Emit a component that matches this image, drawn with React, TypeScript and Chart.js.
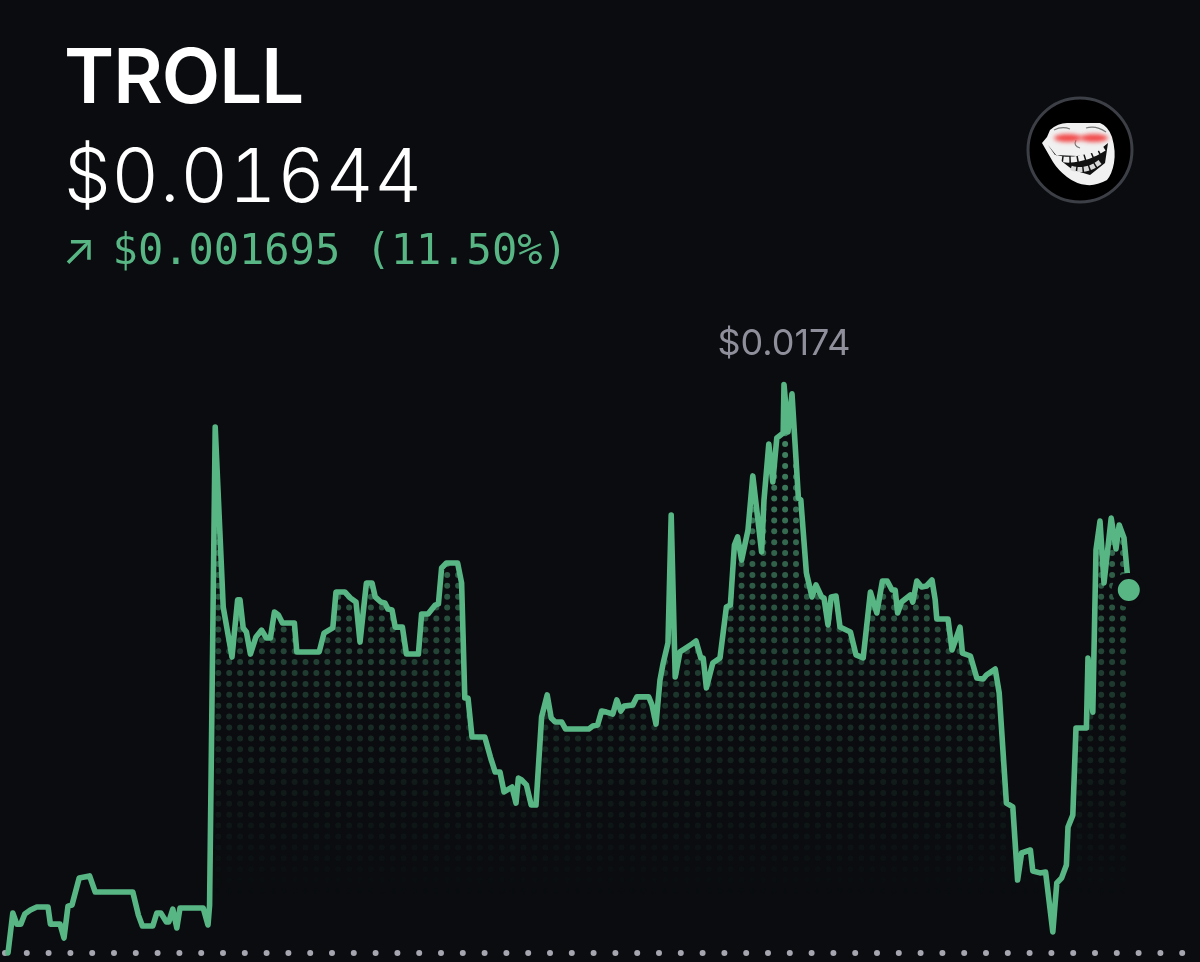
import React, { useEffect, useRef } from "react";
import { Chart, registerables } from "chart.js";

Chart.register(...registerables);

const tokenName = "TROLL";
const currentPriceLabel = "$0.01644";
const changeArrow = "↗";
const changeLabel = "$0.001695 (11.50%)";
const openPrice = 0.014745;

const minutes = [
  0, 6, 11, 16, 21, 28, 36, 50, 53, 65, 70, 75, 80, 89, 102, 109, 156, 163, 168, 181, 186, 191, 198, 201, 206, 211, 215, 244, 250, 252,
  259, 269, 280, 287, 290, 294, 298, 303, 310, 317, 323, 328, 333, 338, 343, 358, 361, 389, 395, 406, 410, 421, 428, 435, 440, 448, 455, 459, 466, 471,
  475, 480, 484, 493, 498, 513, 517, 525, 534, 538, 542, 548, 562, 567, 571, 575, 580, 596, 603, 609, 615, 620, 630, 635, 638, 642, 648, 654, 660, 667,
  674, 679, 684, 692, 697, 726, 731, 737, 742, 748, 756, 761, 766, 770, 781, 786, 801, 805, 810, 815, 819, 825, 829, 834, 840, 855, 860, 866, 869, 873,
  881, 890, 898, 903, 908, 912, 917, 925, 931, 942, 945, 951, 956, 961, 969, 970, 975, 980, 988, 991, 998, 1005, 1010, 1017, 1020, 1025, 1029, 1035, 1040, 1053,
  1060, 1069, 1078, 1086, 1093, 1099, 1105, 1109, 1112, 1117, 1128, 1131, 1136, 1142, 1148, 1155, 1159, 1161, 1175, 1180, 1190, 1193, 1203, 1211, 1219, 1223, 1234, 1239, 1248, 1256,
  1262, 1267, 1278, 1281, 1290, 1297, 1306, 1311, 1317, 1323, 1325, 1331, 1335, 1348, 1350, 1356, 1360, 1365, 1370, 1379, 1385, 1389, 1395, 1401,
];

const prices = [
  0.014745, 0.014932, 0.01488, 0.01488, 0.014927, 0.014946, 0.01496, 0.01496, 0.01488, 0.01488, 0.014815, 0.014964, 0.014969, 0.015095, 0.015105, 0.01503, 0.01503, 0.014922, 0.014871, 0.014871,
  0.014932, 0.014932, 0.01489, 0.01489, 0.01495, 0.014862, 0.014955, 0.014955, 0.014876, 0.014969,
  0.017201, 0.016361, 0.016127, 0.016394, 0.016394, 0.016263, 0.016244, 0.016141, 0.016221, 0.016253, 0.016216, 0.016216, 0.016337, 0.016323, 0.016286, 0.016286, 0.016151, 0.016151, 0.016239, 0.016263,
  0.016431, 0.016431, 0.016403, 0.016384, 0.016197, 0.016473, 0.016473, 0.016408, 0.016384, 0.01638,
  0.016351, 0.016347, 0.016267, 0.016267, 0.016141, 0.016141, 0.016328, 0.016328, 0.01637, 0.016375, 0.016543, 0.016566, 0.016566, 0.016473, 0.015936, 0.015936, 0.015754, 0.015754, 0.01566, 0.01559,
  0.01559, 0.015497, 0.01552, 0.015445, 0.015562, 0.015553, 0.01553, 0.015436, 0.015436, 0.015847,
  0.01595, 0.015842, 0.015824, 0.015824, 0.015791, 0.015791, 0.015805, 0.01581, 0.015875, 0.01587, 0.015861, 0.015927, 0.015875, 0.015898, 0.015903, 0.015941, 0.015941, 0.015903, 0.015814, 0.01602,
  0.016099, 0.016193, 0.01679, 0.016034, 0.016151, 0.016188, 0.016202, 0.016123, 0.016123, 0.015983,
  0.016099, 0.016123, 0.016361, 0.01637, 0.01665, 0.016688, 0.01658, 0.01672, 0.016973, 0.016618, 0.016861, 0.017122, 0.016945, 0.01715, 0.017173, 0.0174, 0.017178, 0.017356, 0.01687, 0.016861,
  0.01652, 0.016408, 0.016464, 0.016408, 0.016403, 0.016277, 0.016408, 0.016412, 0.016267, 0.016244,
  0.016137, 0.016123, 0.016431, 0.016333, 0.016482, 0.016482, 0.01644, 0.01644, 0.016333, 0.016384, 0.016417, 0.016384, 0.016482, 0.016454, 0.016459, 0.016487, 0.016394, 0.016305, 0.016305, 0.01616,
  0.016267, 0.016146, 0.016132, 0.016029, 0.016025, 0.016043, 0.016071, 0.015959, 0.015445, 0.015427,
  0.015086, 0.015212, 0.015226, 0.015128, 0.015119, 0.015123, 0.014843, 0.015072, 0.015095, 0.015156, 0.015333, 0.015389, 0.015796, 0.015796, 0.016123, 0.01587, 0.016627, 0.016762, 0.016473, 0.016776,
  0.016632, 0.016744, 0.016683, 0.01644,
];

const BG = "#0a0c0f";
const GREEN = "#58b685";
const FONT = "Inter, 'Noto Sans', sans-serif";

function makeDotPattern(): CanvasPattern | string {
  const off = document.createElement("canvas");
  off.width = 1200;
  off.height = 962;
  const g = off.getContext("2d");
  if (!g) return "transparent";
  const grad = g.createLinearGradient(0, 430, 0, 900);
  grad.addColorStop(0, "rgba(88,182,133,0.72)");
  grad.addColorStop(0.34, "rgba(88,182,133,0.46)");
  grad.addColorStop(0.53, "rgba(88,182,133,0.27)");
  grad.addColorStop(0.75, "rgba(88,182,133,0.09)");
  grad.addColorStop(1, "rgba(88,182,133,0)");
  g.fillStyle = grad;
  for (let c = -1; c < 84; c++) {
    for (let r = -26; r < 22; r++) {
      g.beginPath();
      g.arc(218.3 + c * 10.9, 673 + r * 10.9, 3, 0, Math.PI * 2);
      g.fill();
    }
  }
  const p = g.createPattern(off, "no-repeat");
  return p || "transparent";
}

const peakLabel = {
  id: "peakLabel",
  afterDatasetsDraw(chart: any) {
    const top = Math.max(...prices);
    const i = prices.indexOf(top);
    const x = chart.scales.x.getPixelForValue(minutes[i]);
    const y = chart.scales.y.getPixelForValue(top);
    const c = chart.ctx;
    c.save();
    c.font = `400 36px ${FONT}`;
    c.fillStyle = "#8f8f9b";
    c.textAlign = "center";
    c.textBaseline = "alphabetic";
    (c as any).letterSpacing = "0px";
    c.fillText(`$${top.toFixed(4)}`, x, y - 29);
    c.restore();
  },
};

function TrollLogo() {
  return (
    <svg width={108} height={108} viewBox="0 0 108 108" style={{ position: "absolute", left: 1026, top: 96 }}>
      <defs>
        <filter id="glow" x="-40%" y="-120%" width="180%" height="340%">
          <feGaussianBlur stdDeviation="2" />
        </filter>
      </defs>
      <circle cx={54} cy={54} r={52} fill="#000" stroke="#3d3f47" strokeWidth={3} />
      <path d="M24 34 Q32 27 41 27 L74 27 Q82 30 86 41 Q90 55 88 67 Q86 78 81 84 Q70 90 61 89 Q50 88 41 81 Q32 74 27 66 L16 47 L21 41 Z" fill="#f1f1f1" />
      <path d="M22 49 L29 59 L51 60 L71 56 L82 47 L79 67 L64 79 L47 74 L34 64 Z" fill="#111" />
      <path d="M30 62 Q52 68 78 52" fill="none" stroke="#f1f1f1" strokeWidth={6} strokeDasharray="6 1.5" />
      <path d="M45 72 Q60 77 74 66" fill="none" stroke="#d8d8d8" strokeWidth={5} strokeDasharray="5 1.5" />
      <path d="M28 34 Q36 30 44 33 M60 32 Q70 29 80 36 M50 44 Q47 50 54 52" fill="none" stroke="#777" strokeWidth={1.2} />
      <ellipse cx={42} cy={42} rx={14} ry={4} fill="#f24a4a" filter="url(#glow)" />
      <ellipse cx={68} cy={42} rx={14} ry={4} fill="#f24a4a" filter="url(#glow)" />
    </svg>
  );
}

export default function App() {
  const ref = useRef<HTMLCanvasElement>(null);
  useEffect(() => {
    if (!ref.current) return;
    const series = minutes.map((m, i) => ({ x: m, y: prices[i] }));
    const last = series[series.length - 1];
    const chart = new Chart(ref.current, {
      type: "line",
      data: {
        datasets: [
          {
            label: "last",
            data: [last],
            showLine: false,
            pointRadius: 14,
            pointBackgroundColor: GREEN,
            pointBorderColor: BG,
            pointBorderWidth: 6,
            order: 0,
          },
          {
            label: tokenName,
            data: series,
            borderColor: GREEN,
            borderWidth: 5.6,
            borderJoinStyle: "round",
            borderCapStyle: "round",
            pointRadius: 0,
            tension: 0,
            fill: "start",
            backgroundColor: makeDotPattern() as any,
            order: 1,
          },
          {
            label: "open",
            data: [
              { x: -3.75, y: openPrice },
              { x: 1490, y: openPrice },
            ],
            borderColor: "#a6a6b1",
            borderWidth: 6,
            borderCapStyle: "round",
            borderDash: [0, 21.8],
            pointRadius: 0,
            order: 2,
          },
        ],
      },
      options: {
        animation: false,
        responsive: false,
        maintainAspectRatio: false,
        layout: { padding: 0, autoPadding: false },
        plugins: { legend: { display: false }, tooltip: { enabled: false } },
        scales: {
          x: { type: "linear", display: false, min: -10, max: 1490 },
          y: { type: "linear", display: false, min: 0.014703, max: 0.0191955 },
        },
      },
      plugins: [peakLabel],
    });
    return () => chart.destroy();
  }, []);

  return (
    <div style={{ position: "absolute", left: 0, top: 0, width: 1200, height: 962, background: BG, overflow: "hidden" }}>
      <canvas ref={ref} width={1200} height={962} style={{ position: "absolute", left: 0, top: 0, display: "block" }} />
      <div style={{ position: "absolute", left: 64, top: 37, font: `600 76px/1 ${FONT}`, letterSpacing: -1, color: "#fff", whiteSpace: "nowrap" }}>{tokenName}</div>
      <div style={{ position: "absolute", left: 64, top: 138, font: `300 74px/1 ${FONT}`, fontFeatureSettings: "'tnum' 1", letterSpacing: 0.6, color: "#fff", whiteSpace: "nowrap" }}>{currentPriceLabel}</div>
      <div style={{ position: "absolute", left: 62, top: 229, font: `400 42px/1 'DejaVu Sans Mono', ${FONT}`, color: GREEN, whiteSpace: "nowrap" }}>
        <span style={{ display: "inline-block", width: 50.6, font: `400 44px/1 'Liberation Mono', ${FONT}` }}>{changeArrow}</span>
        {changeLabel}
      </div>
      <TrollLogo />
    </div>
  );
}
